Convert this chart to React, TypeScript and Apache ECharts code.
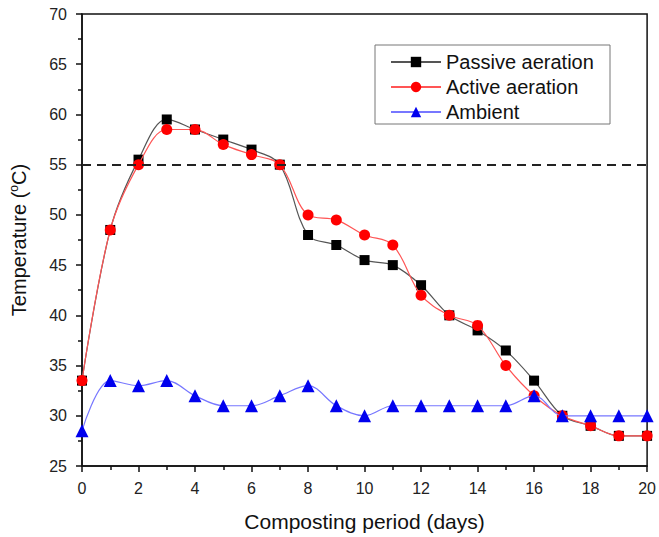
import React, { useEffect, useRef } from "react";
import * as echarts from "echarts";

const days = [0, 1, 2, 3, 4, 5, 6, 7, 8, 9, 10, 11, 12, 13, 14, 15, 16, 17, 18, 19, 20];
const passive = [33.5, 48.5, 55.5, 59.5, 58.5, 57.5, 56.5, 55, 48, 47, 45.5, 45, 43, 40, 38.5, 36.5, 33.5, 30, 29, 28, 28];
const active = [33.5, 48.5, 55, 58.5, 58.5, 57, 56, 55, 50, 49.5, 48, 47, 42, 40, 39, 35, 32, 30, 29, 28, 28];
const ambient = [28.5, 33.5, 33, 33.5, 32, 31, 31, 32, 33, 31, 30, 31, 31, 31, 31, 31, 32, 30, 30, 30, 30];
const thresholdLine = 55;

const FONT = "Liberation Sans, Arial, sans-serif";

export default function App() {
  const ref = useRef<HTMLDivElement>(null);
  useEffect(() => {
    if (!ref.current) return;
    const chart = echarts.init(ref.current, undefined, { renderer: "svg" });
    const pair = (arr: number[]) => days.map((d, i) => [d, arr[i]]);
    chart.setOption({
      animation: false,
      backgroundColor: "#fff",
      textStyle: { fontFamily: FONT },
      grid: {
        left: 80, right: 9, top: 14, bottom: 70,
        show: true, borderColor: "#111", borderWidth: 1.5, backgroundColor: "transparent",
      },
      graphic: [
        {
          type: "rect",
          shape: { x: 375, y: 45, width: 235, height: 79 },
          style: { fill: "#fff", stroke: "#777", lineWidth: 1 },
          z: 10,
        },
      ],
      legend: {
        orient: "vertical",
        left: 390,
        top: 52,
        itemWidth: 50,
        itemHeight: 13,
        itemGap: 5,
        padding: 0,
        z: 20,
        textStyle: { fontFamily: FONT, fontSize: 20, color: "#111", padding: [0, 0, 0, 0] },
        data: ["Passive aeration", "Active aeration", "Ambient"],
      },
      xAxis: {
        type: "value",
        min: 0, max: 20, interval: 2,
        name: "Composting period (days)",
        nameLocation: "middle",
        nameGap: 45,
        nameTextStyle: { fontFamily: FONT, fontSize: 21, color: "#111" },
        axisLine: { show: true, onZero: false, lineStyle: { color: "#111", width: 1.5 } },
        axisTick: { show: true, inside: false, length: 6, lineStyle: { color: "#111", width: 1.5 } },
        minorTick: { show: true, splitNumber: 2, length: 4, lineStyle: { color: "#111", width: 1.5 } },
        axisLabel: { fontFamily: FONT, fontSize: 16, color: "#222", margin: 14 },
        splitLine: { show: false },
      },
      yAxis: {
        type: "value",
        min: 25, max: 70, interval: 5,
        name: "Temperature ({sup|o}C)",
        nameLocation: "middle",
        nameGap: 52,
        nameRotate: 90,
        nameTextStyle: {
          fontFamily: FONT, fontSize: 20, color: "#111",
          rich: {
            sup: { fontFamily: FONT, fontSize: 12, color: "#111", verticalAlign: "bottom", padding: [0, 0, 10, 0] },
          },
        },
        axisLine: { show: true, onZero: false, lineStyle: { color: "#111", width: 1.5 } },
        axisTick: { show: true, inside: false, length: 6, lineStyle: { color: "#111", width: 1.5 } },
        minorTick: { show: true, splitNumber: 2, length: 4, lineStyle: { color: "#111", width: 1.5 } },
        axisLabel: { fontFamily: FONT, fontSize: 16, color: "#222", margin: 15 },
        splitLine: { show: false },
      },
      series: [
        {
          name: "Passive aeration",
          type: "line",
          data: pair(passive),
          smooth: 0.35,
          symbol: "rect",
          symbolSize: 10,
          itemStyle: { color: "#000" },
          lineStyle: { color: "#555", width: 1.2 },
          z: 3,
          markLine: {
            silent: true,
            symbol: "none",
            label: { show: false },
            lineStyle: { color: "#222", width: 2, type: [9, 6] },
            data: [{ yAxis: thresholdLine }],
          },
        },
        {
          name: "Active aeration",
          type: "line",
          data: pair(active),
          smooth: 0.35,
          symbol: "circle",
          symbolSize: 11,
          itemStyle: { color: "#ff0000" },
          lineStyle: { color: "#ff5555", width: 1.2 },
          z: 4,
        },
        {
          name: "Ambient",
          type: "line",
          data: pair(ambient),
          smooth: 0.35,
          symbol: "triangle",
          symbolSize: 13,
          itemStyle: { color: "#0000ee" },
          lineStyle: { color: "#7777ff", width: 1.2 },
          z: 5,
        },
      ],
    });
    return () => chart.dispose();
  }, []);
  return <div ref={ref} style={{ width: 659, height: 537, position: "absolute", left: 0, top: 0 }} />;
}
